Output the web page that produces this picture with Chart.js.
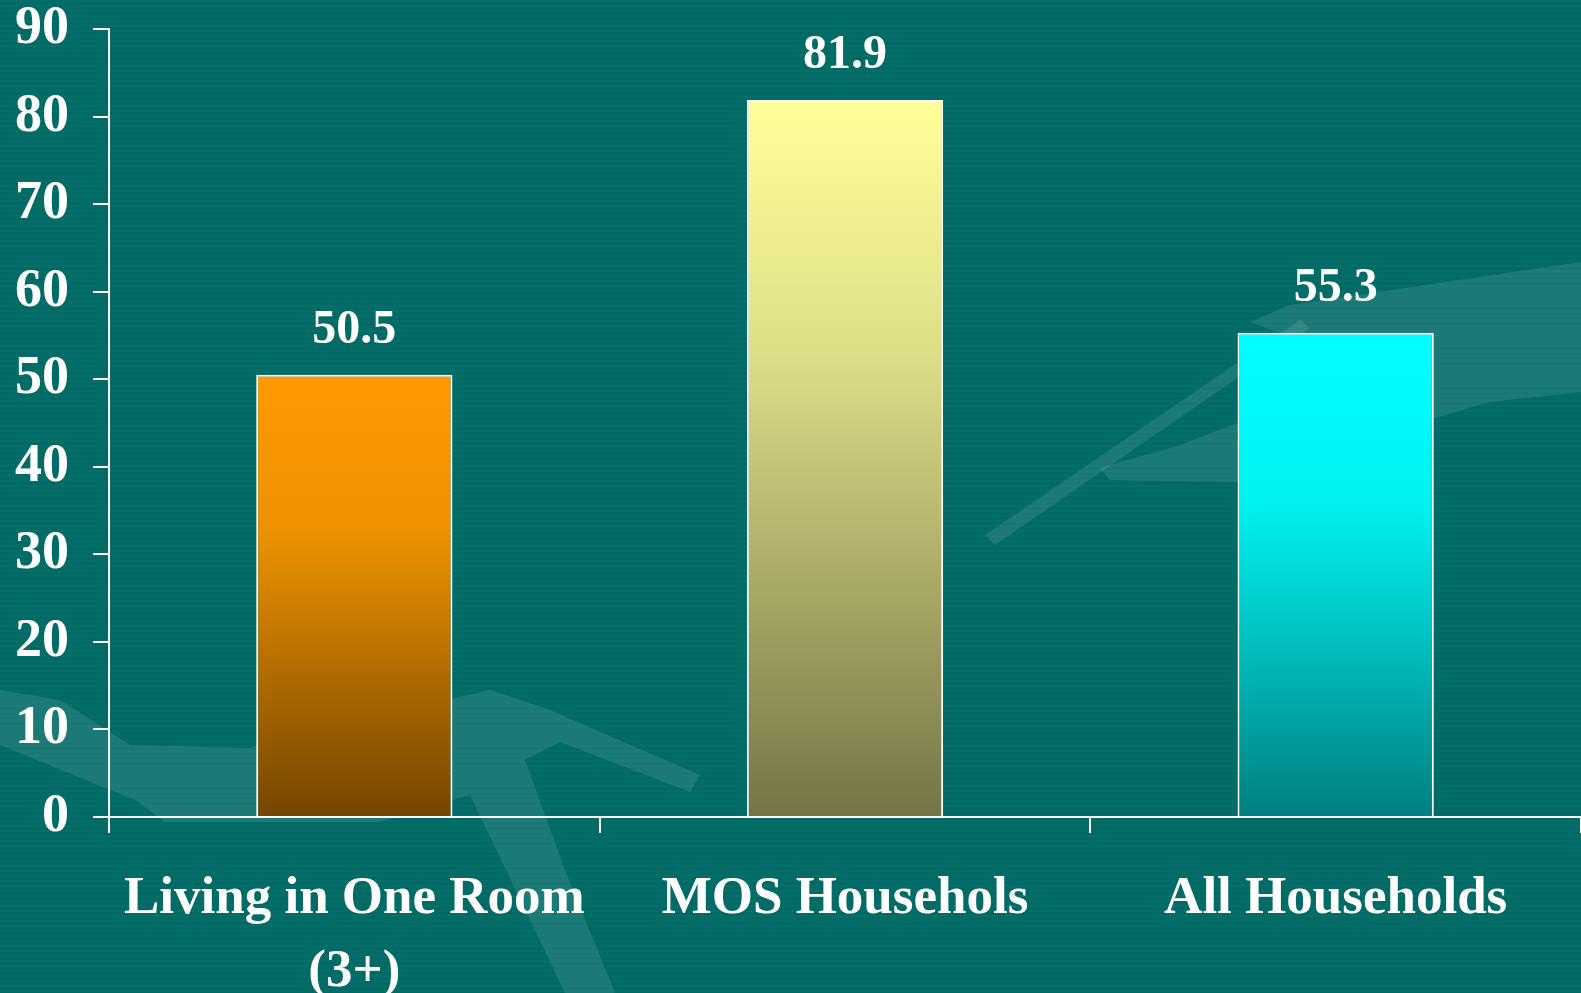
<!DOCTYPE html>
<html>
<head>
<meta charset="utf-8">
<script src="https://cdn.jsdelivr.net/npm/chart.js@4"></script>
<style>
  html, body { margin: 0; padding: 0; background: #006a65; }
  #wrap { width: 1581px; height: 993px; position: relative; }
</style>
</head>
<body>
<div id="wrap"><canvas id="chart" width="1581" height="993"></canvas></div>
<script>
// data
const categories = [['Living in One Room', '(3+)'], 'MOS Househols', 'All Households'];
const values = [50.5, 81.9, 55.3];
const valueLabels = ['50.5', '81.9', '55.3'];
const yTicks = [0, 10, 20, 30, 40, 50, 60, 70, 80, 90];

// top, middle and bottom colours of each bar gradient
const barTop = ['#ff9900', '#ffff99', '#00ffff'];
const barMid = ['#ee9200', '#dede88', '#00f2f2'];
const barBottom = ['#744600', '#747446', '#007f7f'];

const serif = "'Times New Roman', 'Liberation Serif', serif";

// decorative swooshes of the slide template (not data)
const swooshes = [
  [[0,690],[60,700],[130,745],[250,748],[320,725],[455,698],[490,690],[545,708],[700,775],[690,792],[560,742],[525,760],
   [565,870],[615,993],[565,993],[470,795],[380,822],[165,822],[135,800],[0,745]],
  [[1290,305],[1581,262],[1581,392],[1490,402],[1360,440],[1240,482],[1110,480],[1100,468],[1180,445],[1250,418],[1330,352],[1250,322]],
  [[985,535],[1300,320],[1310,328],[995,545]]
];

// background: teal with faint horizontal stripes
const backgroundPlugin = {
  id: 'bg',
  beforeDraw(chart) {
    const ctx = chart.ctx;
    const w = chart.width, h = chart.height;
    ctx.save();
    ctx.fillStyle = '#006a65';
    ctx.fillRect(0, 0, w, h);
    ctx.fillStyle = 'rgba(255,255,255,0.025)';
    for (let y = 0; y < h; y += 5) {
      ctx.fillRect(0, y, w, 2);
    }
    ctx.fillStyle = 'rgba(255,255,255,0.1)';
    swooshes.forEach(pts => {
      ctx.beginPath();
      pts.forEach((p, k) => k ? ctx.lineTo(p[0], p[1]) : ctx.moveTo(p[0], p[1]));
      ctx.closePath();
      ctx.fill();
    });
    ctx.restore();
  }
};

// value labels above the bars
const valueLabelPlugin = {
  id: 'valueLabels',
  afterDatasetsDraw(chart) {
    const ctx = chart.ctx;
    const meta = chart.getDatasetMeta(0);
    ctx.save();
    ctx.fillStyle = '#ffffff';
    ctx.font = 'bold 48px ' + serif;
    ctx.textAlign = 'center';
    ctx.textBaseline = 'alphabetic';
    meta.data.forEach((bar, i) => {
      ctx.fillText(valueLabels[i], bar.x, bar.y - 32);
    });
    ctx.restore();
  }
};

function barGradient(context) {
  const chart = context.chart;
  const area = chart.chartArea;
  if (!area) return barTop[context.dataIndex];
  const i = context.dataIndex;
  const yScale = chart.scales.y;
  const top = yScale.getPixelForValue(values[i]);
  const bottom = yScale.getPixelForValue(0);
  const g = chart.ctx.createLinearGradient(0, top, 0, bottom);
  g.addColorStop(0, barTop[i]);
  g.addColorStop(0.35, barMid[i]);
  g.addColorStop(1, barBottom[i]);
  return g;
}

new Chart(document.getElementById('chart'), {
  type: 'bar',
  data: {
    labels: categories,
    datasets: [{
      data: values,
      backgroundColor: barGradient,
      borderColor: '#ffffff',
      borderWidth: 2,
      categoryPercentage: 0.4,
      barPercentage: 1.0
    }]
  },
  options: {
    responsive: false,
    animation: false,
    layout: { padding: { top: 29, right: 0, left: 0, bottom: 0 } },
    plugins: {
      legend: { display: false },
      tooltip: { enabled: false }
    },
    scales: {
      x: {
        offset: true,
        grid: {
          offset: true,
          drawOnChartArea: false,
          drawTicks: true,
          tickLength: 16,
          color: '#ffffff',
          lineWidth: 2
        },
        border: { display: true, color: '#ffffff', width: 2 },
        ticks: {
          color: '#ffffff',
          font: { family: serif, size: 53, weight: 'bold', lineHeight: 1.38 },
          padding: 30,
          maxRotation: 0,
          autoSkip: false
        },
        afterFit(scale) {
          scale.height = 176;
          scale.paddingLeft = 0;
          scale.paddingRight = 0;
        }
      },
      y: {
        min: 0,
        max: 90,
        afterBuildTicks(scale) {
          scale.ticks = yTicks.map(v => ({ value: v }));
        },
        grid: {
          drawOnChartArea: false,
          drawTicks: true,
          tickLength: 16,
          color: '#ffffff',
          lineWidth: 2
        },
        border: { display: true, color: '#ffffff', width: 2 },
        ticks: {
          color: '#ffffff',
          font: { family: serif, size: 54, weight: 'bold' },
          padding: 24
        },
        afterFit(scale) {
          scale.width = 109;
          scale.paddingTop = 0;
          scale.paddingBottom = 0;
        }
      }
    }
  },
  plugins: [backgroundPlugin, valueLabelPlugin]
});
</script>
</body>
</html>
